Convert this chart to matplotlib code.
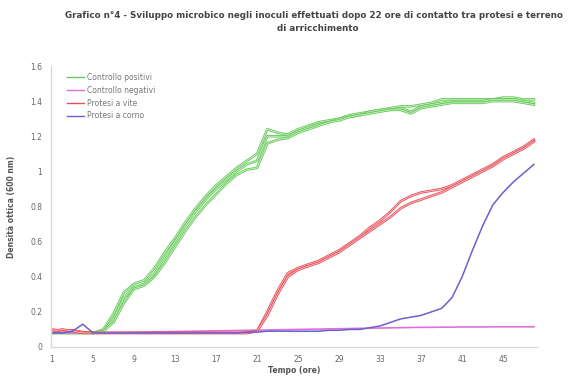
import matplotlib
matplotlib.use("Agg")
import matplotlib.pyplot as plt
import matplotlib.patheffects as pe
import numpy as np

hours = list(range(1, 49))

pos1 = [0.08, 0.08, 0.08, 0.08, 0.08, 0.10, 0.19, 0.31, 0.36, 0.38, 0.45, 0.54, 0.62, 0.71, 0.79, 0.86, 0.92,
        0.97, 1.02, 1.06, 1.10, 1.24, 1.22, 1.21, 1.24, 1.26, 1.28, 1.29, 1.30, 1.32, 1.33, 1.34, 1.35, 1.36,
        1.37, 1.37, 1.38, 1.39, 1.41, 1.41, 1.41, 1.41, 1.41, 1.41, 1.42, 1.42, 1.41, 1.41]
pos2 = [0.08, 0.08, 0.08, 0.08, 0.08, 0.09, 0.16, 0.28, 0.34, 0.36, 0.42, 0.51, 0.60, 0.69, 0.77, 0.84, 0.90,
        0.95, 1.00, 1.04, 1.06, 1.20, 1.20, 1.20, 1.23, 1.25, 1.27, 1.28, 1.30, 1.31, 1.32, 1.34, 1.35, 1.35,
        1.36, 1.34, 1.37, 1.38, 1.39, 1.40, 1.40, 1.40, 1.40, 1.41, 1.41, 1.41, 1.40, 1.39]
pos3 = [0.08, 0.08, 0.08, 0.08, 0.08, 0.09, 0.14, 0.25, 0.33, 0.35, 0.40, 0.48, 0.57, 0.66, 0.74, 0.81, 0.87,
        0.93, 0.98, 1.01, 1.02, 1.16, 1.18, 1.19, 1.22, 1.24, 1.26, 1.28, 1.29, 1.31, 1.32, 1.33, 1.34, 1.35,
        1.35, 1.33, 1.36, 1.37, 1.38, 1.39, 1.39, 1.39, 1.39, 1.40, 1.40, 1.40, 1.39, 1.38]
neg = [0.08, 0.08, 0.08, 0.08, 0.08, 0.081, 0.082, 0.083, 0.084, 0.085, 0.086, 0.087, 0.088, 0.089, 0.090,
       0.091, 0.092, 0.093, 0.094, 0.095, 0.096, 0.097, 0.098, 0.099, 0.100, 0.101, 0.102, 0.103, 0.104,
       0.105, 0.106, 0.107, 0.108, 0.109, 0.110, 0.111, 0.112, 0.112, 0.113, 0.113, 0.114, 0.114, 0.114,
       0.115, 0.115, 0.115, 0.115, 0.115]
vite1 = [0.10, 0.09, 0.095, 0.085, 0.08, 0.08, 0.08, 0.08, 0.08, 0.08, 0.08, 0.08, 0.08, 0.08, 0.08, 0.08,
         0.08, 0.08, 0.08, 0.08, 0.09, 0.20, 0.32, 0.42, 0.45, 0.47, 0.49, 0.52, 0.55, 0.59, 0.63, 0.68, 0.72,
         0.77, 0.83, 0.86, 0.88, 0.89, 0.90, 0.92, 0.95, 0.98, 1.01, 1.04, 1.08, 1.11, 1.14, 1.18]
vite2 = [0.09, 0.10, 0.09, 0.08, 0.08, 0.08, 0.08, 0.08, 0.08, 0.08, 0.08, 0.08, 0.08, 0.08, 0.08, 0.08,
         0.08, 0.08, 0.08, 0.08, 0.09, 0.18, 0.30, 0.40, 0.44, 0.46, 0.48, 0.51, 0.54, 0.58, 0.62, 0.66, 0.70,
         0.74, 0.79, 0.82, 0.84, 0.86, 0.88, 0.91, 0.94, 0.97, 1.00, 1.03, 1.07, 1.10, 1.13, 1.17]
corno = [0.08, 0.08, 0.09, 0.13, 0.08, 0.08, 0.08, 0.08, 0.08, 0.08, 0.08, 0.08, 0.08, 0.08, 0.08, 0.08,
         0.08, 0.08, 0.08, 0.085, 0.085, 0.09, 0.09, 0.09, 0.09, 0.09, 0.09, 0.095, 0.095, 0.10, 0.10, 0.11,
         0.12, 0.14, 0.16, 0.17, 0.18, 0.20, 0.22, 0.28, 0.40, 0.55, 0.69, 0.81, 0.88, 0.94, 0.99, 1.04]

fig = plt.figure(figsize=(5.73, 3.78), dpi=100)
ax = fig.add_axes([50.5 / 573, 1 - 347 / 378, (537 - 50.5) / 573, (347 - 66) / 378])

green = "#66c85a"
light_green = "#d0f2c8"
red = "#e94b57"
light_red = "#f8c8cc"
blue = "#6a5fd0"
magenta = "#e070d8"

def outlined(y, col, inner, label=None):
    ax.plot(hours, y, color=col, lw=1.8, label=label, solid_joinstyle="round")
    ax.plot(hours, y, color=inner, lw=0.6)

outlined(pos1, green, light_green, "Controllo positivi")
outlined(pos2, green, light_green)
outlined(pos3, green, light_green)
ax.plot(hours, neg, color=magenta, lw=1.2, label="Controllo negativi")
outlined(vite1, red, light_red, "Protesi a vite")
outlined(vite2, red, light_red)
ax.plot(hours, corno, color=blue, lw=1.1, label="Protesi a corno")

ax.set_xlim(0.85, 48.3)
ax.set_ylim(0, 1.6)
ax.set_xticks(list(range(1, 48, 4)))
ax.set_yticks([0, 0.2, 0.4, 0.6, 0.8, 1, 1.2, 1.4, 1.6])
ax.set_yticklabels(["0", "0.2", "0.4", "0.6", "0.8", "1", "1.2", "1.4", "1.6"])
ax.tick_params(labelsize=5.5, colors="#666666", length=0, pad=6)
for s in ["top", "right"]:
    ax.spines[s].set_visible(False)
for s in ["left", "bottom"]:
    ax.spines[s].set_color("#d8d8d8")
    ax.spines[s].set_linewidth(1.0)

ax.set_ylabel("Densità ottica (600 nm)", fontsize=5.5, color="#555555", fontweight="bold", labelpad=10)
ax.set_xlabel("Tempo (ore)", fontsize=5.5, color="#555555", fontweight="bold", labelpad=1.5)

handles, labels = ax.get_legend_handles_labels()
leg = ax.legend(handles, labels, loc="upper left", bbox_to_anchor=(0.02, 1.0), frameon=False,
                fontsize=5.5, handlelength=2.2, handletextpad=0.4, labelspacing=0.5, labelcolor="#777777")
for h in leg.legend_handles:
    h.set_linewidth(1.0)

fig.text(0.548, 0.958, "Grafico n°4 - Sviluppo microbico negli inoculi effettuati dopo 22 ore di contatto tra protesi e terreno",
         ha="center", va="center", fontsize=6.3, color="#444444", fontweight="bold")
fig.text(0.555, 0.925, "di arricchimento", ha="center", va="center", fontsize=6.3, color="#444444", fontweight="bold")

fig.savefig("out.png", dpi=100)
